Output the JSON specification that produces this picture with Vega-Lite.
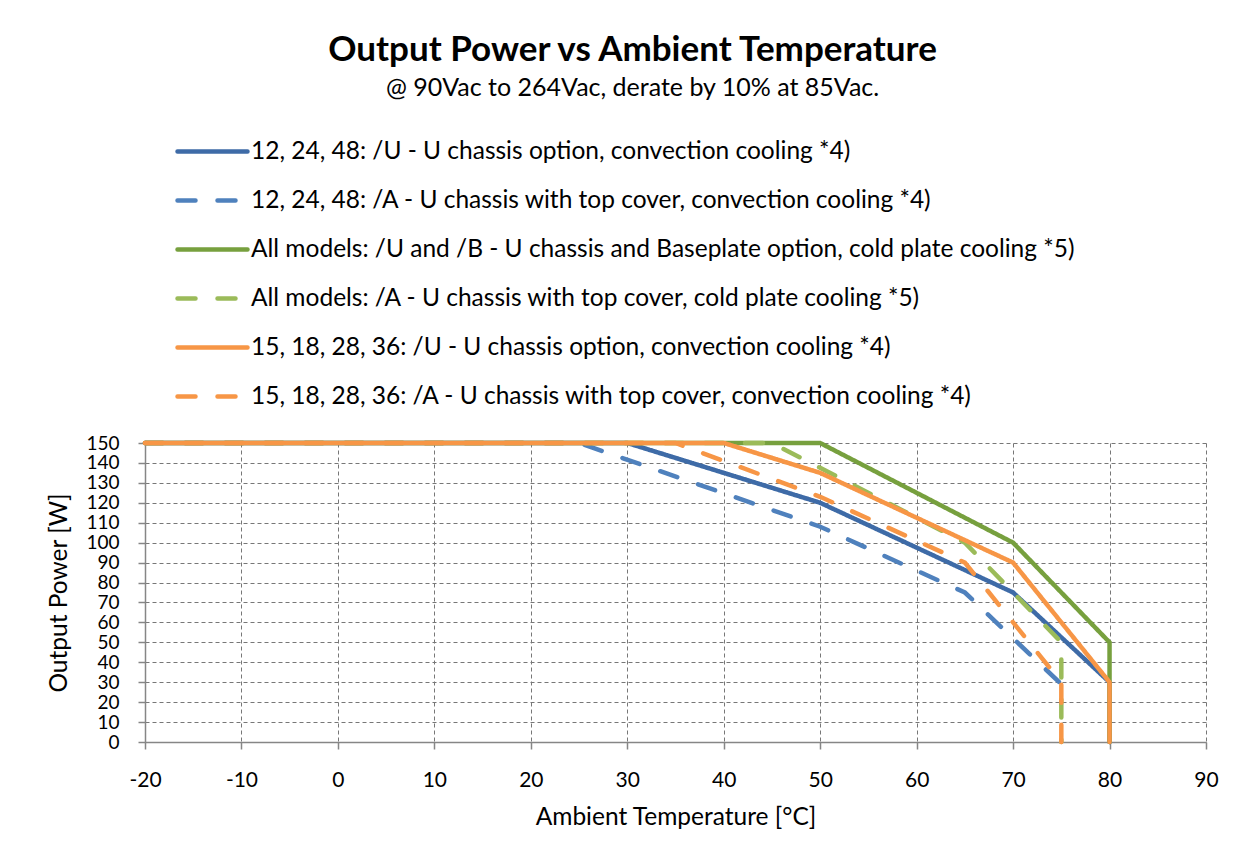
{
  "$schema": "https://vega.github.io/schema/vega-lite/v6.json",
  "width": 1061,
  "height": 299,
  "autosize": {"type": "none"},
  "padding": {"left": 145, "top": 443, "right": 47, "bottom": 120},
  "background": "white",
  "title": {
    "text": "Output Power vs Ambient Temperature",
    "subtitle": "@ 90Vac to 264Vac, derate by 10% at 85Vac.",
    "anchor": "middle",
    "frame": "bounds",
    "font": "Lato",
    "fontSize": 35,
    "fontWeight": "bold",
    "color": "black",
    "subtitleFont": "Lato",
    "subtitleFontSize": 25,
    "subtitleColor": "black",
    "subtitlePadding": 8,
    "offset": 13
  },
  "config": {
    "view": {"stroke": null},
    "font": "Lato",
    "axis": {
      "domainColor": "#868686",
      "domainWidth": 1.5,
      "tickColor": "#868686",
      "tickWidth": 1.5,
      "tickSize": 7,
      "gridColor": "#777777",
      "gridDash": [4, 3],
      "gridWidth": 1,
      "labelFont": "Lato",
      "labelFontSize": 21,
      "labelColor": "black",
      "titleFont": "Lato",
      "titleFontSize": 24.5,
      "titleFontWeight": "normal",
      "titleColor": "black",
      "labelOverlap": false,
      "labelFlush": false
    },
    "legend": {
      "labelFont": "Lato",
      "labelFontSize": 24.5,
      "labelColor": "black"
    }
  },
  "data": {
    "values": [
      {"s": "12, 24, 48: /U - U chassis option, convection cooling *4)", "i": 0, "t": -20, "p": 150},
      {"s": "12, 24, 48: /U - U chassis option, convection cooling *4)", "i": 1, "t": 30, "p": 150},
      {"s": "12, 24, 48: /U - U chassis option, convection cooling *4)", "i": 2, "t": 50, "p": 120},
      {"s": "12, 24, 48: /U - U chassis option, convection cooling *4)", "i": 3, "t": 70, "p": 75},
      {"s": "12, 24, 48: /U - U chassis option, convection cooling *4)", "i": 4, "t": 80, "p": 30},
      {"s": "12, 24, 48: /U - U chassis option, convection cooling *4)", "i": 5, "t": 80, "p": 0},
      {"s": "12, 24, 48: /A - U chassis with top cover, convection cooling *4)", "i": 0, "t": -20, "p": 150},
      {"s": "12, 24, 48: /A - U chassis with top cover, convection cooling *4)", "i": 1, "t": 25, "p": 150},
      {"s": "12, 24, 48: /A - U chassis with top cover, convection cooling *4)", "i": 2, "t": 50, "p": 108},
      {"s": "12, 24, 48: /A - U chassis with top cover, convection cooling *4)", "i": 3, "t": 65, "p": 75},
      {"s": "12, 24, 48: /A - U chassis with top cover, convection cooling *4)", "i": 4, "t": 75, "p": 29},
      {"s": "All models: /U and /B - U chassis and Baseplate option, cold plate cooling *5)", "i": 0, "t": -20, "p": 150},
      {"s": "All models: /U and /B - U chassis and Baseplate option, cold plate cooling *5)", "i": 1, "t": 50, "p": 150},
      {"s": "All models: /U and /B - U chassis and Baseplate option, cold plate cooling *5)", "i": 2, "t": 70, "p": 100},
      {"s": "All models: /U and /B - U chassis and Baseplate option, cold plate cooling *5)", "i": 3, "t": 80, "p": 50},
      {"s": "All models: /U and /B - U chassis and Baseplate option, cold plate cooling *5)", "i": 4, "t": 80, "p": 0},
      {"s": "All models: /A -  U chassis with top cover, cold plate cooling *5)", "i": 0, "t": -20, "p": 150},
      {"s": "All models: /A -  U chassis with top cover, cold plate cooling *5)", "i": 1, "t": 45, "p": 150},
      {"s": "All models: /A -  U chassis with top cover, cold plate cooling *5)", "i": 2, "t": 65, "p": 100},
      {"s": "All models: /A -  U chassis with top cover, cold plate cooling *5)", "i": 3, "t": 75, "p": 50},
      {"s": "All models: /A -  U chassis with top cover, cold plate cooling *5)", "i": 4, "t": 75, "p": 0},
      {"s": "15, 18, 28, 36: /U - U chassis option, convection cooling *4)", "i": 0, "t": -20, "p": 150},
      {"s": "15, 18, 28, 36: /U - U chassis option, convection cooling *4)", "i": 1, "t": 40, "p": 150},
      {"s": "15, 18, 28, 36: /U - U chassis option, convection cooling *4)", "i": 2, "t": 50, "p": 135},
      {"s": "15, 18, 28, 36: /U - U chassis option, convection cooling *4)", "i": 3, "t": 70, "p": 90},
      {"s": "15, 18, 28, 36: /U - U chassis option, convection cooling *4)", "i": 4, "t": 80, "p": 30},
      {"s": "15, 18, 28, 36: /U - U chassis option, convection cooling *4)", "i": 5, "t": 80, "p": 0},
      {"s": "15, 18, 28, 36: /A - U chassis with top cover, convection cooling *4)", "i": 0, "t": -20, "p": 150},
      {"s": "15, 18, 28, 36: /A - U chassis with top cover, convection cooling *4)", "i": 1, "t": 35, "p": 150},
      {"s": "15, 18, 28, 36: /A - U chassis with top cover, convection cooling *4)", "i": 2, "t": 50, "p": 123},
      {"s": "15, 18, 28, 36: /A - U chassis with top cover, convection cooling *4)", "i": 3, "t": 65, "p": 90},
      {"s": "15, 18, 28, 36: /A - U chassis with top cover, convection cooling *4)", "i": 4, "t": 75, "p": 30},
      {"s": "15, 18, 28, 36: /A - U chassis with top cover, convection cooling *4)", "i": 5, "t": 75, "p": 0}
    ]
  },
  "mark": {"type": "line", "strokeWidth": 4.5, "strokeCap": "round", "strokeJoin": "miter", "clip": false},
  "encoding": {
    "x": {
      "field": "t",
      "type": "quantitative",
      "scale": {"domain": [-20, 90], "nice": false, "zero": false},
      "axis": {"values": [-20, -10, 0, 10, 20, 30, 40, 50, 60, 70, 80, 90], "labelExpr": "toString(datum.value)", "title": "Ambient Temperature [°C]", "labelPadding": 20, "titlePadding": 15}
    },
    "y": {
      "field": "p",
      "type": "quantitative",
      "scale": {"domain": [0, 150], "nice": false},
      "axis": {"values": [0, 10, 20, 30, 40, 50, 60, 70, 80, 90, 100, 110, 120, 130, 140, 150], "title": "Output Power [W]", "labelPadding": 19, "titlePadding": 14, "labelFontSize": 19}
    },
    "order": {"field": "i", "type": "quantitative"},
    "color": {
      "field": "s",
      "type": "nominal",
      "sort": null,
      "scale": {
        "domain": [
          "12, 24, 48: /U - U chassis option, convection cooling *4)",
          "12, 24, 48: /A - U chassis with top cover, convection cooling *4)",
          "All models: /U and /B - U chassis and Baseplate option, cold plate cooling *5)",
          "All models: /A -  U chassis with top cover, cold plate cooling *5)",
          "15, 18, 28, 36: /U - U chassis option, convection cooling *4)",
          "15, 18, 28, 36: /A - U chassis with top cover, convection cooling *4)"
        ],
        "range": ["#3E6BA7", "#4F81BD", "#77A03E", "#9BBB59", "#F79646", "#F79646"]
      },
      "legend": {
        "title": null,
        "orient": "none",
        "legendX": 30,
        "legendY": -329,
        "direction": "vertical",
        "symbolType": "stroke",
        "symbolSize": 4900,
        "symbolStrokeWidth": 4.5,
        "labelOffset": 1,
        "rowPadding": -2,
        "padding": 0,
        "labelLimit": 1000,
        "encode": {"symbols": {"update": {"strokeCap": {"value": "round"}}}}
      }
    },
    "strokeDash": {
      "field": "s",
      "type": "nominal",
      "sort": null,
      "scale": {
        "domain": [
          "12, 24, 48: /U - U chassis option, convection cooling *4)",
          "12, 24, 48: /A - U chassis with top cover, convection cooling *4)",
          "All models: /U and /B - U chassis and Baseplate option, cold plate cooling *5)",
          "All models: /A -  U chassis with top cover, cold plate cooling *5)",
          "15, 18, 28, 36: /U - U chassis option, convection cooling *4)",
          "15, 18, 28, 36: /A - U chassis with top cover, convection cooling *4)"
        ],
        "range": [[1, 0], [18, 22], [1, 0], [18, 22], [1, 0], [18, 22]]
      },
      "legend": null
    }
  }
}
